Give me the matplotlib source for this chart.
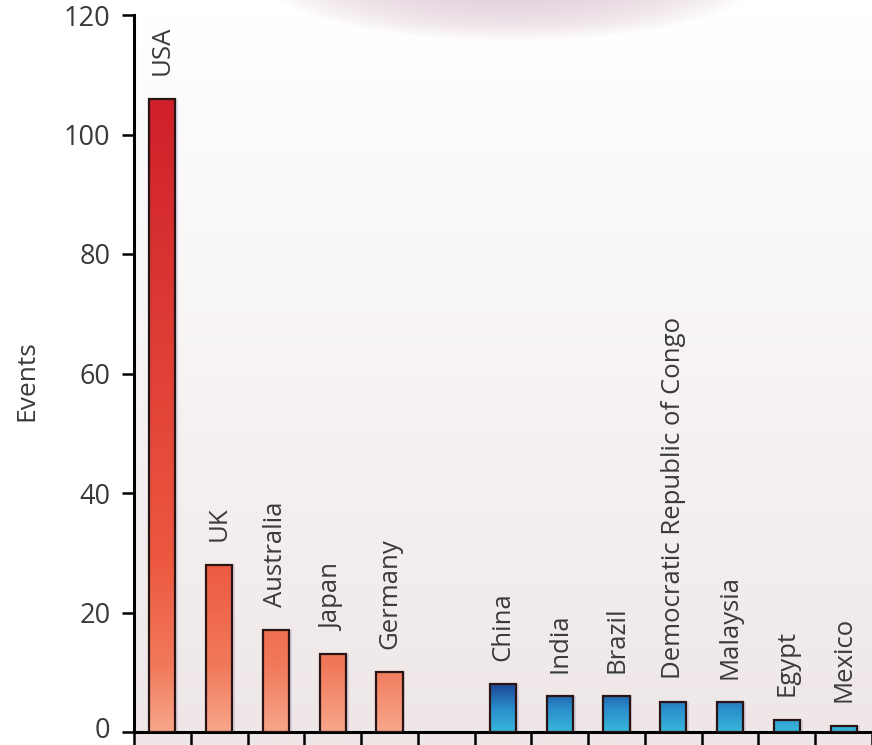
import numpy as np
import matplotlib
matplotlib.use("Agg")
import matplotlib.pyplot as plt
from matplotlib.colors import LinearSegmentedColormap, to_rgb
from matplotlib.transforms import ScaledTranslation

# ---------- data ----------
countries = ["USA", "UK", "Australia", "Japan", "Germany",
             "China", "India", "Brazil", "Democratic Republic of Congo",
             "Malaysia", "Egypt", "Mexico"]
events = [106, 28, 17, 13, 10, 8, 6, 6, 5, 5, 2, 1]
group = ["high", "high", "high", "high", "high",
         "low", "low", "low", "low", "low", "low", "low"]
y_ticks = [0, 20, 40, 60, 80, 100, 120]

plt.rcParams["font.family"] = ["Open Sans", "DejaVu Sans"]
txt = "#3a3a3a"

red_cmap = LinearSegmentedColormap.from_list(
    "reds", [(0, "#f7a68a"), (0.1, "#f27a5c"), (0.27, "#ec5840"), (1, "#cf1f2a")])
blue_cmap = LinearSegmentedColormap.from_list(
    "blues", [(0, "#38b8da"), (0.5, "#2a8ccc"), (1, "#1c4796")])

W, H = 872, 745
fig = plt.figure(figsize=(W / 100, H / 100), dpi=100)

# ---------- background ----------
bg = fig.add_axes([0, 0, 1, 1], zorder=-1)
bg.axis("off")
yy, xx = np.mgrid[0:H, 0:W]
img = np.ones((H, W, 3))
# soft grey-pink wash in the plot area, darker toward the bottom
t = np.clip((yy - 15) / 720.0, 0, 1) * (xx > 134)
low = np.array(to_rgb("#efe7e7"))
img = img * (1 - t[..., None]) + low * t[..., None]
# pink glow at the top
d = ((xx - 510) / 240.0) ** 2 + ((yy + 15) / 55.0) ** 2
g = np.clip(1 - d, 0, 1) ** 0.8
pink = np.array(to_rgb("#e4d2dc"))
img = img * (1 - g[..., None]) + pink * g[..., None]
bg.imshow(img, extent=(0, 1, 0, 1), aspect="auto")
bg.set_xlim(0, 1); bg.set_ylim(0, 1)

# ---------- bars ----------
ax = fig.add_axes([134 / W, 13 / H, (W - 134) / W, 717 / H])
ax.set_facecolor("none")

pos = np.arange(len(countries)) + np.array([0 if g_ == "high" else 1 for g_ in group])
width = 0.46
vmax = {"high": max(e for e, g_ in zip(events, group) if g_ == "high"),
        "low": max(e for e, g_ in zip(events, group) if g_ == "low")}

for x, h, g_, name in zip(pos, events, group, countries):
    cmap = red_cmap if g_ == "high" else blue_cmap
    grad = np.linspace(0, h, 256).reshape(-1, 1)
    # soft shadow on the right
    ax.bar(x + 0.05, h, width, color="#8f86b8", alpha=0.25, lw=0, zorder=1)
    ax.imshow(grad, extent=(x - width / 2, x + width / 2, 0, h), origin="lower",
              cmap=cmap, vmin=0, vmax=vmax[g_], aspect="auto", zorder=2)
    ax.bar(x, h, width, facecolor="none", edgecolor="#2b1414", lw=1.6, zorder=3)
    ax.annotate(name, (x, h), xytext=(0, 17), textcoords="offset points",
                rotation=90, ha="center", va="bottom", fontsize=18.5, color=txt)

ax.set_xlim(-0.5, 12.45)
ax.set_ylim(0, 120)
ax.set_yticks(y_ticks)
ax.set_xticks(np.arange(-0.5, 13, 1.0))
ax.set_xticklabels([])
ax.tick_params(axis="y", direction="out", length=9, width=1.8, pad=8,
               labelsize=19.5, labelcolor=txt)
ax.tick_params(axis="x", direction="out", length=12, width=1.8)
for s in ["top", "right"]:
    ax.spines[s].set_visible(False)
for s in ["left", "bottom"]:
    ax.spines[s].set_linewidth(2.2)
ax.set_ylabel("Events", fontsize=19, color=txt)
ax.yaxis.set_label_coords(-0.128, 0.49)

# keep the "0" label inside the canvas
lab0 = ax.get_yticklabels()[0]
lab0.set_transform(lab0.get_transform() + ScaledTranslation(0, 3 / 72, fig.dpi_scale_trans))

fig.savefig("out.png", dpi=100)
